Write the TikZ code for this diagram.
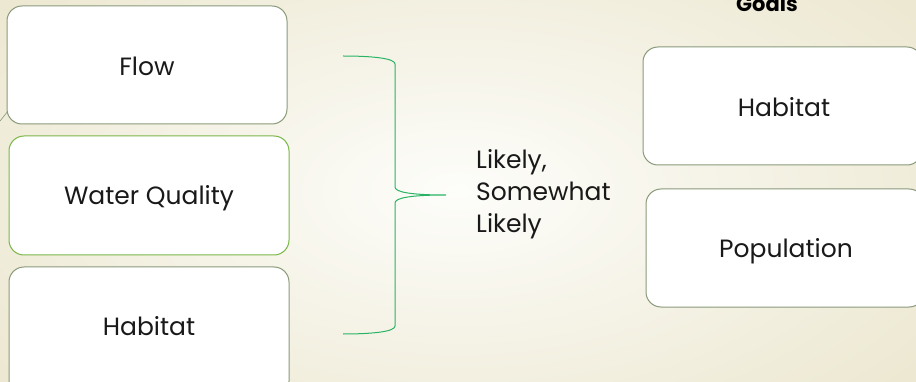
\documentclass[tikz,border=0pt]{standalone}
\usepackage{fontspec}
\setmainfont{Poppins}
\definecolor{boxline}{RGB}{138,154,122}
\definecolor{wqline}{RGB}{122,182,72}
\definecolor{bracecol}{RGB}{40,180,100}
\definecolor{bgout}{RGB}{234,229,204}
\definecolor{bgin}{RGB}{253,253,250}
\begin{document}
\begin{tikzpicture}[x=1pt,y=-1pt,
  card/.style={draw=boxline,line width=1pt,rounded corners=15pt,fill=white},
  lbl/.style={font=\fontsize{25}{32}\selectfont,text=black!90,anchor=base},
]
\useasboundingbox (0,0) rectangle (916,382);
\shade[inner color=bgin,outer color=bgout] (-200,-150) rectangle (1116,532);
% left column
\draw[card] (7,6) rectangle (287,124);
\node[lbl] (flow) at (147,76) {Flow};
\draw[card,draw=wqline] (9,136) rectangle (289,255);
\node[lbl] (wq) at (149,205) {Water Quality};
\draw[card] (9,267) rectangle (289,396);
\node[lbl] (hab) at (149,335) {Habitat};
\coordinate (dl1) at (0,121);
\coordinate (dl2) at (8,111);
\draw[boxline,line width=0.6pt] (dl1) -- (dl2);
% right column
\node[font=\fontsize{21}{24}\selectfont\bfseries,anchor=base] (goals) at (767,12) {Goals};
\draw[card] (643,47) rectangle (922,165);
\node[lbl] (habr) at (784,117) {Habitat};
\draw[card] (646,189) rectangle (924,307);
\node[lbl] (pop) at (786,258) {Population};
% brace
\coordinate (bt) at (343,56);
\coordinate (bb) at (343,334);
\coordinate (tip) at (446,195);
\draw[bracecol,line width=1pt]
  (bt) .. controls (370,56) and (395,58) .. (395,64)
  -- (395,187) .. controls (395,192) and (410,195) .. (tip)
  .. controls (410,195) and (395,198) .. (395,203)
  -- (395,326) .. controls (395,332) and (370,334) .. (bb);
\node[font=\fontsize{25}{32}\selectfont,text=black!90,anchor=north west,align=left,inner sep=0pt] (likely) at (476,149)
  {Likely,\\Somewhat\\Likely};
\end{tikzpicture}
\end{document}
